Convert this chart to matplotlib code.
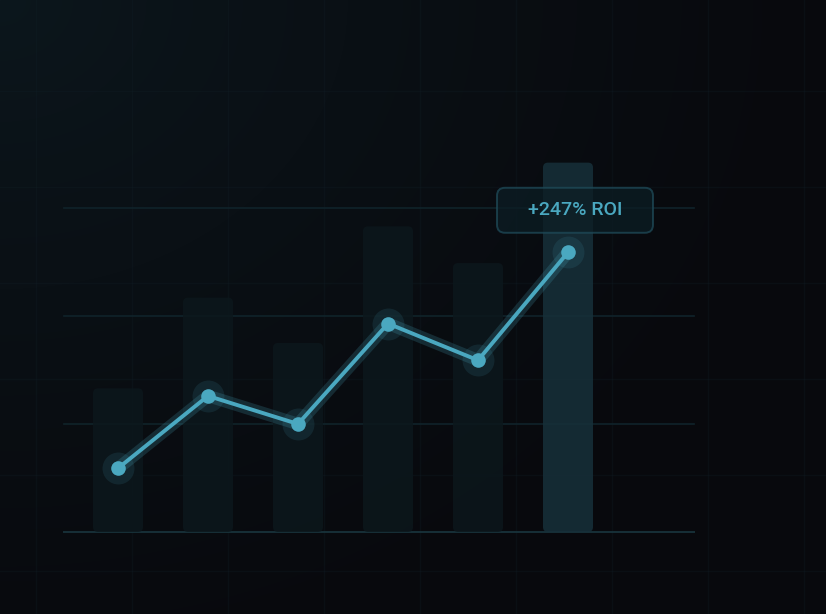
import numpy as np
import matplotlib
matplotlib.use("Agg")
import matplotlib.pyplot as plt
from matplotlib.patches import FancyBboxPatch

# data
periods = ["P1", "P2", "P3", "P4", "P5", "P6"]
bar_values = [133, 217, 175, 283, 249, 342]
line_values = [59, 126, 100, 193, 159, 259]
grid_values = [0, 100, 200, 300]
roi_label = "+247% ROI"

# colours
BG_LIGHT = np.array([0x0c, 0x17, 0x1d]) / 255
BG_DARK = np.array([0x08, 0x09, 0x0d]) / 255
LINE = "#4aa8c0"
BAR = "#0c171c"
BAR_HI = "#17303a"

W, H = 826, 614
fig = plt.figure(figsize=(W / 100, H / 100), dpi=100)

# background: soft gradient from the top-left plus a faint square grid
bg = fig.add_axes([0, 0, 1, 1])
bg.set_xlim(0, W)
bg.set_ylim(H, 0)
bg.axis("off")
yy, xx = np.mgrid[0:H, 0:W]
d = np.sqrt((xx / W) ** 2 + (yy / H) ** 2 * 0.8)
t = np.clip(d / 1.0, 0, 1) ** 0.8
img = BG_LIGHT[None, None, :] * (1 - t[..., None]) + BG_DARK[None, None, :] * t[..., None]
bg.imshow(img, extent=(0, W, H, 0), aspect="auto", zorder=0)
for gx in range(36, W, 96):
    bg.axvline(gx, color="#12222a", lw=1, alpha=0.25, zorder=1)
for gy in range(91, H, 96):
    bg.axhline(gy, color="#12222a", lw=1, alpha=0.25, zorder=1)

# data axes, mapped so category i sits at 118 + 90*i px and value 0 at y=532 px
px_x, px_y = 90.0, 1.08
ax = fig.add_axes([0, 0, 1, 1])
ax.patch.set_alpha(0)
ax.set_xlim(-118 / px_x, (W - 118) / px_x)
ax.set_ylim(-(H - 532) / px_y, 532 / px_y)
ax.axis("off")

x = np.arange(len(periods))
x_lo, x_hi = -54 / px_x, (694 - 118) / px_x

for g in grid_values[1:]:
    ax.plot([x_lo, x_hi], [g, g], color="#10232a", lw=1.2, zorder=1)
ax.plot([x_lo, x_hi], [0, 0], color="#173038", lw=1.4, zorder=1)

# rounded bars
bw = 50 / px_x
r = 5 / px_x
for i, v in enumerate(bar_values):
    col = BAR_HI if i == len(bar_values) - 1 else BAR
    p = FancyBboxPatch((x[i] - bw / 2 + r, r * px_x / px_y), bw - 2 * r, v - 2 * r * px_x / px_y,
                       boxstyle=f"round,pad={r},rounding_size={r}",
                       mutation_aspect=px_x / px_y,
                       fc=col, ec="none", alpha=0.85, zorder=2)
    ax.add_patch(p)

# glowing line
ax.plot(x, line_values, color=LINE, lw=9, alpha=0.2, solid_capstyle="round",
        solid_joinstyle="round", zorder=3)
ax.plot(x, line_values, color=LINE, lw=2.8, solid_capstyle="round",
        solid_joinstyle="round", zorder=4)
ax.plot(x, line_values, "o", ms=23, color=LINE, alpha=0.12, mec="none", zorder=3)
ax.plot(x, line_values, "o", ms=10.5, color=LINE, mec="none", zorder=5)

# ROI label box above last point
lx = x[-1] + (575 - 568) / px_x
ly = line_values[-1] + (252 - 210) / px_y
box_w, box_h = 156 / px_x, 45 / px_y
rr = 8 / px_x
box = FancyBboxPatch((lx - box_w / 2 + rr, ly - box_h / 2 + rr * px_x / px_y),
                     box_w - 2 * rr, box_h - 2 * rr * px_x / px_y,
                     boxstyle=f"round,pad={rr},rounding_size={rr}",
                     mutation_aspect=px_x / px_y,
                     fc="#0c1d24", ec="#1f4b59", lw=1.4, alpha=0.75, zorder=6)
ax.add_patch(box)
ax.text(lx, ly, roi_label, color="#4aa8c0", fontsize=14, ha="center", va="center",
        family=["Roboto", "DejaVu Sans"], fontweight="medium", zorder=7)

fig.savefig("out.png", dpi=100)
